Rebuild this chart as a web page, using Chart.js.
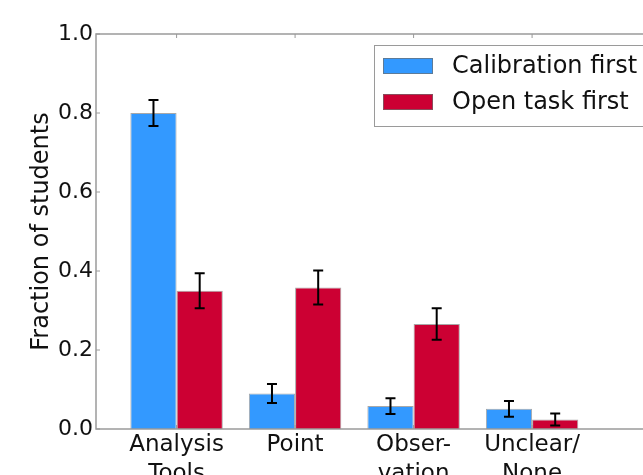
<!DOCTYPE html>
<html>
<head>
<meta charset="utf-8">
<script src="https://cdn.jsdelivr.net/npm/chart.js@4/dist/chart.umd.min.js"></script>
<style>
  html, body { margin: 0; padding: 0; background: #fff; overflow: hidden; }
  #wrap { width: 700px; height: 520px; }
</style>
</head>
<body>
<div id="wrap"><canvas id="c" width="700" height="520"></canvas></div>
<script>
// Categories and their positions along the x axis
const categories = [["Analysis", "Tools"], ["Point"], ["Obser-", "vation"], ["Unclear/", "None"]];
const positions = [0.7, 1.7, 2.7, 3.7];

// Fractions of students and their uncertainties
const calibrationFirst = [0.80, 0.090, 0.058, 0.051];
const calibrationErr   = [0.033, 0.024, 0.020, 0.020];
const openTaskFirst    = [0.35, 0.358, 0.266, 0.024];
const openTaskErr      = [0.044, 0.043, 0.040, 0.015];

const yTicks = [0.0, 0.2, 0.4, 0.6, 0.8, 1.0];

const FONT = "'DejaVu Sans', sans-serif";
const FRAME = '#9a9a9a';

// Black error bars with caps on every bar
const errorBars = {
  id: 'errorBars',
  afterDatasetsDraw(chart) {
    const ctx = chart.ctx;
    const y = chart.scales.y;
    ctx.save();
    ctx.strokeStyle = '#000';
    ctx.lineWidth = 2;
    chart.data.datasets.forEach((ds, di) => {
      const meta = chart.getDatasetMeta(di);
      meta.data.forEach((bar, i) => {
        const v = ds.data[i].y, e = ds.errors[i];
        const top = y.getPixelForValue(v + e);
        const bot = y.getPixelForValue(v - e);
        const cap = 5;
        ctx.beginPath();
        ctx.moveTo(bar.x, top); ctx.lineTo(bar.x, bot);
        ctx.moveTo(bar.x - cap, top); ctx.lineTo(bar.x + cap, top);
        ctx.moveTo(bar.x - cap, bot); ctx.lineTo(bar.x + cap, bot);
        ctx.stroke();
      });
    });
    ctx.restore();
  }
};

// Plot frame with inward tick marks
const frame = {
  id: 'frame',
  afterDraw(chart) {
    const {ctx, chartArea: a, scales} = chart;
    ctx.save();
    ctx.strokeStyle = FRAME;
    ctx.lineWidth = 1.5;
    ctx.strokeRect(a.left, a.top, a.right - a.left, a.bottom - a.top);
    ctx.lineWidth = 1;
    ctx.beginPath();
    yTicks.forEach(t => {
      const py = scales.y.getPixelForValue(t);
      ctx.moveTo(a.left, py); ctx.lineTo(a.left + 4, py);
      ctx.moveTo(a.right, py); ctx.lineTo(a.right - 4, py);
    });
    positions.forEach(p => {
      const px = scales.x.getPixelForValue(p);
      ctx.moveTo(px, a.top); ctx.lineTo(px, a.top + 4);
      ctx.moveTo(px, a.bottom); ctx.lineTo(px, a.bottom - 4);
    });
    ctx.stroke();
    ctx.restore();
  }
};

// Framed legend in the upper right of the plot
const boxLegend = {
  id: 'boxLegend',
  afterDraw(chart) {
    const {ctx, chartArea: a} = chart;
    const left = 374, top = 45, bottom = 126, right = a.right - 8;
    ctx.save();
    ctx.fillStyle = '#fff';
    ctx.fillRect(left, top, right - left, bottom - top);
    ctx.strokeStyle = FRAME;
    ctx.lineWidth = 1;
    ctx.strokeRect(left + 0.5, top + 0.5, right - left, bottom - top);
    ctx.font = '24px ' + FONT;
    ctx.textBaseline = 'middle';
    chart.data.datasets.forEach((ds, i) => {
      const cy = 66 + i * 36;
      ctx.fillStyle = ds.backgroundColor;
      ctx.fillRect(383, cy - 8, 50, 16);
      ctx.strokeStyle = 'rgba(110,110,110,0.7)';
      ctx.strokeRect(383.5, cy - 7.5, 49, 15);
      ctx.fillStyle = '#111';
      ctx.fillText(ds.label, 452, cy + 1);
    });
    ctx.restore();
  }
};

const toPoints = vals => vals.map((v, i) => ({x: positions[i], y: v}));

new Chart(document.getElementById('c'), {
  type: 'bar',
  data: {
    datasets: [
      { label: 'Calibration first', data: toPoints(calibrationFirst), errors: calibrationErr,
        backgroundColor: '#3399ff', borderColor: 'rgba(110,110,110,0.6)', borderWidth: 1 },
      { label: 'Open task first', data: toPoints(openTaskFirst), errors: openTaskErr,
        backgroundColor: '#cc0033', borderColor: 'rgba(110,110,110,0.6)', borderWidth: 1 }
    ]
  },
  options: {
    responsive: false,
    animation: false,
    events: [],
    layout: { padding: { left: 0, top: 34, right: 34, bottom: 0 } },
    datasets: { bar: { categoryPercentage: 0.78, barPercentage: 1.0 } },
    plugins: { legend: { display: false }, tooltip: { enabled: false } },
    scales: {
      x: {
        type: 'linear',
        offset: false,
        bounds: 'data',
        min: 0.02, max: 4.83,
        grid: { display: false, drawTicks: false, offset: false },
        border: { display: false },
        afterBuildTicks: s => { s.ticks = positions.map(v => ({ value: v })); },
        afterFit: s => { s.height = 520 - 429; },
        ticks: {
          autoSkip: false, maxRotation: 0, padding: 2,
          color: '#111',
          font: { family: FONT, size: 23, lineHeight: 1.25 },
          callback: (v, i) => categories[i]
        }
      },
      y: {
        min: 0, max: 1,
        grid: { display: false, drawTicks: false },
        border: { display: false },
        afterBuildTicks: s => { s.ticks = yTicks.map(v => ({ value: v })); },
        afterFit: s => { s.width = 96; },
        ticks: {
          padding: 3, color: '#111',
          font: { family: FONT, size: 22 },
          callback: v => v.toFixed(1)
        },
        title: {
          display: true, text: 'Fraction of students', color: '#111',
          font: { family: FONT, size: 24 },
          padding: { top: 27, bottom: 0 }
        }
      }
    }
  },
  plugins: [errorBars, frame, boxLegend]
});
</script>
</body>
</html>
